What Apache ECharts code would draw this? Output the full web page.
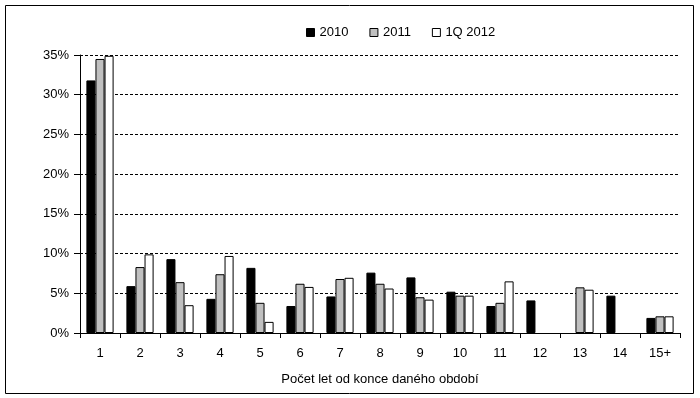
<!DOCTYPE html>
<html>
<head>
<meta charset="utf-8">
<script src="https://cdn.jsdelivr.net/npm/echarts@6/dist/echarts.min.js"></script>
<style>html,body{margin:0;padding:0;background:#fff}#c{width:700px;height:398px}</style>
</head>
<body>
<div id="c"></div>
<script>
var categories = ['1','2','3','4','5','6','7','8','9','10','11','12','13','14','15+'];
var seriesNames = ['2010','2011','1Q 2012'];
var v2010 = [31.8, 5.9, 9.3, 4.3, 8.2, 3.4, 4.6, 7.6, 7.0, 5.2, 3.4, 4.1, null, 4.7, 1.9];
var v2011 = [34.5, 8.3, 6.4, 7.4, 3.8, 6.2, 6.8, 6.2, 4.5, 4.7, 3.8, null, 5.75, null, 2.1];
var v2012 = [34.9, 9.9, 3.5, 9.7, 1.4, 5.8, 6.95, 5.6, 4.2, 4.7, 6.5, null, 5.45, null, 2.1];
var yTicks = [0, 5, 10, 15, 20, 25, 30, 35];

var colors = ['#000000', '#c0c0c0', '#ffffff'];
var data = [v2010, v2011, v2012];
var chart = echarts.init(document.getElementById('c'));
var font = '"Liberation Sans", Arial, sans-serif';
chart.setOption({
  animation: false,
  textStyle: {fontFamily: font},
  graphic: [{
    type: 'rect', shape: {x: 5.5, y: 5.5, width: 688, height: 388},
    style: {fill: 'none', stroke: '#000', lineWidth: 1}, z: 100
  }],
  legend: {
    top: 21, left: 301,
    itemWidth: 8, itemHeight: 8, itemGap: 21,
    textStyle: {fontSize: 13, color: '#000', fontFamily: font},
    data: seriesNames.map(function (n, i) {
      return {name: n, icon: 'rect', itemStyle: {color: colors[i], borderColor: '#000', borderWidth: 1}};
    })
  },
  grid: {left: 80, right: 20, top: 55, bottom: 65},
  xAxis: {
    type: 'category', data: categories,
    name: 'Počet let od konce daného období', nameLocation: 'middle', nameGap: 40,
    nameTextStyle: {fontSize: 13, color: '#000', fontFamily: font},
    axisLine: {lineStyle: {color: '#000', width: 1}},
    axisTick: {show: true, alignWithLabel: false, length: 5, lineStyle: {color: '#000'}},
    axisLabel: {fontSize: 13, color: '#000', margin: 14, fontFamily: font}
  },
  yAxis: {
    type: 'value', min: 0, max: 35, interval: 5,
    axisLine: {show: true, lineStyle: {color: '#000', width: 1}},
    axisTick: {show: true, length: 6, inside: false, lineStyle: {color: '#000'}},
    axisLabel: {fontSize: 13, color: '#000', margin: 11, formatter: '{value}%', fontFamily: font},
    splitLine: {show: true, lineStyle: {color: '#000', width: 1, type: [3, 2]}}
  },
  series: seriesNames.map(function (n, i) {
    return {
      name: n, type: 'bar', data: data[i],
      barGap: '0%', barCategoryGap: '32%',
      itemStyle: {color: colors[i], borderColor: '#000', borderWidth: 1}
    };
  })
});
</script>
</body>
</html>
